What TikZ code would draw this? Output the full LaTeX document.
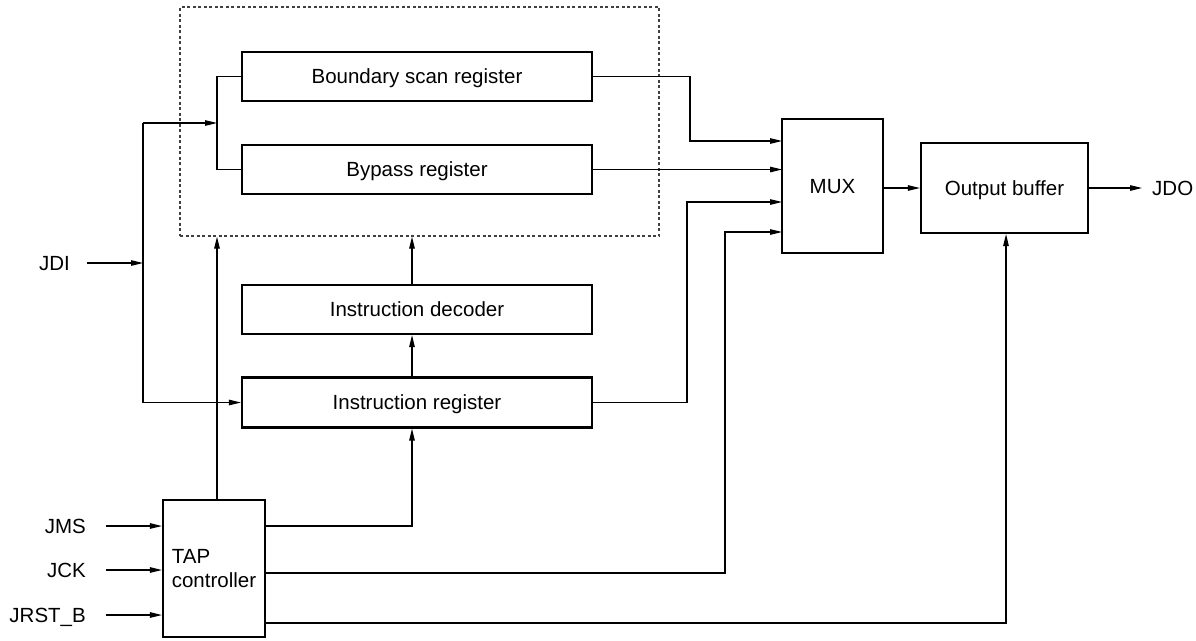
\documentclass[tikz,border=0pt]{standalone}
\usepackage{fontspec}
\setmainfont{Liberation Sans}
\usetikzlibrary{arrows.meta,calc}
\begin{document}
\begin{tikzpicture}[x=1pt,y=-1pt,
  font=\fontsize{20.5}{24.5}\selectfont,
  blk/.style={draw,line width=2.1pt,inner sep=0pt,text height=14.4pt,text depth=0pt},
  lbl/.style={inner sep=0pt,text height=14.4pt,text depth=0pt},
  wire/.style={line width=1.2pt},
  arr/.style={wire,-{Triangle[length=12pt,width=5.5pt]}},
  grpbox/.style={draw=black!75,line width=1.3pt,dash pattern=on 3pt off 2.5pt,inner sep=0pt}]
\useasboundingbox (0,0) rectangle (1196,640);

% group box
\node[grpbox,minimum width=479pt,minimum height=229pt] (grp) at (419.5,121.5) {};

% blocks
\node[blk,minimum width=350pt,minimum height=49pt] (bsr) at (417,76.5) {Boundary scan register};
\node[blk,minimum width=350pt,minimum height=49pt] (byp) at (417,169.5) {Bypass register};
\node[blk,minimum width=350pt,minimum height=49pt] (dec) at (417,309.5) {Instruction decoder};
\node[blk,minimum width=350pt,minimum height=50pt] (ir) at (417,402.5) {Instruction register};
\node[blk,minimum width=101pt,minimum height=134pt] (mux) at (832.5,186) {MUX};
\node[blk,minimum width=167pt,minimum height=90pt] (ob) at (1004.5,188) {Output buffer};
\node[draw,line width=2.1pt,inner sep=0pt,minimum width=102pt,minimum height=137pt,align=left] (tap) at (214,568.5) {TAP\\controller};

% labels
\node[lbl,anchor=east] (jdi) at (70,263) {JDI};
\node[lbl,anchor=east] (jms) at (86,526) {JMS};
\node[lbl,anchor=east] (jck) at (86,570) {JCK};
\node[lbl,anchor=east] (jrst) at (86,615) {JRST\_B};
\node[lbl,anchor=west] (jdo) at (1152,188) {JDO};

% coordinates
\coordinate (jtop) at (143,123);
\coordinate (jv) at (143,263);
\coordinate (br) at (217,123);
\coordinate (min1) at (782,141);
\coordinate (min2) at (782,169.5);
\coordinate (min3) at (782,202);
\coordinate (min4) at (782,232);
\coordinate (t1) at (265,526);
\coordinate (t2) at (265,573);
\coordinate (t3) at (265,623);
\coordinate (ircol) at (412,0);

% JDI distribution
\draw[arr] ([xshift=17pt]jdi.east) -- (jv);
\draw[wire] (jtop) -- (jtop |- ir.west);
\draw[arr] (jtop |- ir.west) -- (ir.west);
\draw[arr] (jtop) -- (br);
\draw[wire] (bsr.west) -| (br);
\draw[wire] (byp.west) -| (br);

% to group box
\draw[arr] (br |- tap.north) -- (br |- grp.south);
\draw[arr] (ircol |- dec.north) -- (ircol |- grp.south);
\draw[arr] (ircol |- ir.north) -- (ircol |- dec.south);
\draw[arr] (t1) -| (ircol |- ir.south);

% into MUX
\draw[arr] (bsr.east) -- ++(97,0) |- (min1);
\draw[arr] (byp.east) -- (min2);
\draw[arr] (ir.east) -- ++(94,0) |- (min3);
\draw[arr] (t2) -- ++(460,0) |- (min4);

% output
\draw[arr] (mux.east |- ob.west) -- (ob.west);
\draw[arr,shorten >=10pt] (ob.east) -- (jdo.west);
\draw[arr] (t3) -| ([xshift=1.5pt]ob.south);

% TAP inputs
\draw[arr] ([xshift=20pt]jms.east) -- (jms.east -| tap.west);
\draw[arr] ([xshift=20pt]jck.east) -- (jck.east -| tap.west);
\draw[arr] ([xshift=20pt]jrst.east) -- (jrst.east -| tap.west);
\end{tikzpicture}
\end{document}
